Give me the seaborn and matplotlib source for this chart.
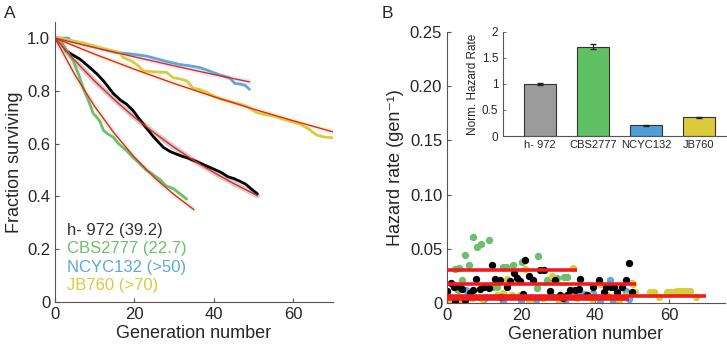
import numpy as np
import pandas as pd
import matplotlib
matplotlib.use("Agg")
import matplotlib.pyplot as plt
import seaborn as sns

# strains and colours
strains = ["h- 972", "CBS2777", "NCYC132", "JB760"]
legend_labels = ["h- 972 (39.2)", "CBS2777 (22.7)", "NCYC132 (>50)", "JB760 (>70)"]
line_colors = ["#000000", "#6cbf6c", "#5ea7dc", "#d8cb3c"]
text_colors = ["#333333", "#6cbf6c", "#5ea7dc", "#d8cb3c"]
bar_colors = ["#9b9b9b", "#5fc163", "#4d9edb", "#dccb3a"]

# panel A: survival curves (generation, fraction surviving)
black_g = [0, 1.3, 2.9, 4.6, 6.3, 8.8, 10.5, 12.2, 14.7, 16.5, 18, 19.7, 21.4, 23, 24.8, 27.3, 29,
           31.5, 33.5, 35.7, 37.5, 39.8, 42, 43.5, 45, 46.5, 48, 49.5, 51]
black_f = [1.0, 0.99, 0.95, 0.935, 0.92, 0.888, 0.865, 0.838, 0.79, 0.765, 0.75, 0.725, 0.69, 0.66,
           0.626, 0.586, 0.57, 0.555, 0.545, 0.532, 0.52, 0.505, 0.49, 0.475, 0.468, 0.458, 0.447,
           0.428, 0.41]
green_g = [0, 1.3, 3, 4.6, 6, 7.1, 8.5, 9.6, 10.5, 11.3, 12.2, 13.5, 14.7, 16, 18, 19.5, 21.4, 23,
           24.5, 26.4, 28, 29.8, 31.5, 33.2]
green_f = [1.0, 0.99, 0.95, 0.913, 0.86, 0.81, 0.76, 0.715, 0.70, 0.685, 0.65, 0.635, 0.624, 0.60,
           0.574, 0.55, 0.524, 0.50, 0.485, 0.465, 0.44, 0.43, 0.41, 0.39]
blue_g = [0, 3.3, 4, 5.5, 7.5, 9.6, 12, 15.5, 19, 23, 26, 28.5, 31.5, 34, 36.5, 39, 41.6, 44.1,
          45.3, 47, 48, 49]
blue_f = [1.0, 1.0, 0.99, 0.985, 0.975, 0.968, 0.958, 0.945, 0.94, 0.932, 0.92, 0.91, 0.90, 0.895,
          0.888, 0.875, 0.86, 0.848, 0.828, 0.825, 0.82, 0.806]
yellow_g = [0, 1.3, 4, 7.1, 10, 13, 16.4, 17.2, 19, 20.6, 22.3, 25, 28.1, 29.8, 31.5, 33.2, 34.8,
            36.5, 38.2, 40, 41.6, 44, 46.6, 48.5, 50.8, 53, 55, 58, 61.7, 64, 66, 68, 70]
yellow_f = [1.0, 1.0, 0.99, 0.982, 0.97, 0.957, 0.945, 0.926, 0.915, 0.90, 0.876, 0.872, 0.87,
            0.85, 0.845, 0.838, 0.81, 0.805, 0.794, 0.78, 0.77, 0.76, 0.75, 0.74, 0.718, 0.71,
            0.705, 0.69, 0.674, 0.655, 0.632, 0.625, 0.622]

# panel A: exponential fits
fit_black_g = [0, 5, 10, 15, 20, 25, 30, 35, 40, 45, 50, 51]
fit_black_f = [1.0, 0.915, 0.837, 0.766, 0.70, 0.641, 0.586, 0.536, 0.491, 0.449, 0.411, 0.403]
fit_green_g = [0, 5, 10, 15, 20, 25, 30, 35]
fit_green_f = [1.0, 0.861, 0.741, 0.638, 0.549, 0.472, 0.407, 0.35]
fit_blue_g = [0, 10, 20, 30, 40, 49]
fit_blue_f = [1.0, 0.964, 0.929, 0.895, 0.862, 0.834]
fit_yellow_g = [0, 10, 20, 30, 40, 50, 60, 70]
fit_yellow_f = [1.0, 0.939, 0.882, 0.828, 0.778, 0.731, 0.687, 0.645]

# panel B: per-generation hazard rates
hz_black_g = [0.1, 1, 1.9, 2.8, 3.5, 4, 4.9, 6.2, 7.1, 7.8, 8.9, 10, 11.3, 12.1, 13, 14.3, 16.1,
              17, 18.1, 18.8, 19.7, 21.1, 22, 23.2, 25.1, 26.2, 27.8, 29.2, 30.4, 31.4, 32.5,
              33.2, 34.6, 35.5, 35.9, 37.7, 39.5, 40.9, 42.3, 43, 44.2, 45.1, 45.9, 47.2, 48.3,
              49, 49.9, 14.5, 20.5, 2.2]
hz_black_h = [0.0114, 0.0188, 0.0145, 0.0157, 0.0145, 0.0127, 0.0028, 0.009, 0.012, 0.022,
              0.0127, 0.015, 0.0136, 0.035, 0.022, 0.021, 0.0145, 0.0198, 0.028, 0.0228, 0.0198,
              0.0398, 0.0244, 0.0213, 0.030, 0.0306, 0.0114, 0.0213, 0.0074, 0.0043, 0.0074,
              0.012, 0.012, 0.0127, 0.0219, 0.0074, 0.015, 0.0213, 0.0105, 0.015, 0.0145, 0.015,
              0.0105, 0.015, 0.0213, 0.0367, 0.0105, 0.005, 0.008, 0.002]
hz_green_g = [2.2, 3.1, 4.0, 4.9, 6.0, 7.1, 8.0, 9.1, 11.2, 3.0, 12.5, 13.4, 15.2, 16.0, 17.9,
              20.2, 24.2, 24.5, 26.9, 28.3, 29.6, 31.6, 32.5]
hz_green_h = [0.031, 0.032, 0.021, 0.044, 0.035, 0.061, 0.052, 0.054, 0.058, 0.012, 0.015, 0.015,
              0.033, 0.033, 0.035, 0.038, 0.0136, 0.0435, 0.021, 0.0228, 0.0228, 0.024, 0.024]
hz_blue_g = [0, 3.5, 5, 10, 15.2, 20, 24, 28, 31.9, 35.5, 37, 39.5, 41.4, 44, 44.8, 46, 48.4, 49]
hz_blue_h = [0.001, 0.0136, 0.012, 0.004, 0.001, 0.002, 0.003, 0.006, 0.001, 0.0105, 0.008,
             0.0095, 0.001, 0.0213, 0.001, 0.006, 0.0114, 0.004]
hz_yellow_g = [0, 1, 3.2, 6.7, 9.4, 13.4, 15.2, 16.1, 17.5, 19.7, 21.1, 22, 26, 28.3, 30.1, 34.1,
               35, 38.2, 39.1, 41.4, 43.2, 46.3, 48.6, 49.9, 50.2, 50.8, 54.9, 55.8, 57.1, 59.4,
               60.3, 61.2, 62.1, 63, 63.9, 64.8, 65.7, 67.3]
hz_yellow_h = [0.0074, 0.0028, 0.002, 0.0043, 0.0034, 0.0074, 0.009, 0.022, 0.0074, 0.0074,
               0.031, 0.001, 0.0043, 0.0244, 0.002, 0.032, 0.0043, 0.007, 0.004, 0.0176, 0.0074,
               0.0028, 0.0074, 0.018, 0.0176, 0.0105, 0.0105, 0.0105, 0.0052, 0.0105, 0.0105,
               0.0105, 0.011, 0.0114, 0.0114, 0.0114, 0.0114, 0.0052]

# fitted constant hazard (red bars in B) and their generation range
fit_rate = [0.0178, 0.0306, 0.0038, 0.0063]
fit_end = [51, 35, 49, 70]

# inset: normalised hazard rate
norm_rate = [1.0, 1.72, 0.21, 0.36]
norm_err = [0.012, 0.05, 0.008, 0.01]

sns.set_style("ticks")
plt.rcParams['font.family'] = ['Liberation Sans', 'DejaVu Sans']
plt.rcParams['axes.edgecolor'] = '#555555'
plt.rcParams['xtick.direction'] = 'in'
plt.rcParams['ytick.direction'] = 'in'

surv = [(black_g, black_f), (green_g, green_f), (blue_g, blue_f), (yellow_g, yellow_f)]
fits = [(fit_black_g, fit_black_f), (fit_green_g, fit_green_f),
        (fit_blue_g, fit_blue_f), (fit_yellow_g, fit_yellow_f)]
hz = [(hz_black_g, hz_black_h), (hz_green_g, hz_green_h),
      (hz_blue_g, hz_blue_h), (hz_yellow_g, hz_yellow_h)]

fig = plt.figure(figsize=(7.27, 3.51), dpi=100)
axA = fig.add_axes([0.0757, 0.1396, 0.382, 0.797])
axB = fig.add_axes([0.615, 0.137, 0.382, 0.772])
axI = fig.add_axes([0.692, 0.6125, 0.308, 0.2965])

# ---- panel A
surv_df = pd.concat([pd.DataFrame({'gen': g, 'frac': f, 'strain': s})
                     for (g, f), s in zip(surv, strains)])
fit_df = pd.concat([pd.DataFrame({'gen': g, 'frac': f, 'strain': s})
                    for (g, f), s in zip(fits, strains)])
# faint band under each fit
sns.lineplot(data=fit_df, x='gen', y='frac', hue='strain', palette=line_colors, sort=False,
             estimator=None, lw=4, alpha=0.18, legend=False, ax=axA)
sns.lineplot(data=surv_df, x='gen', y='frac', hue='strain', palette=line_colors, sort=False,
             estimator=None, lw=2, legend=False, ax=axA)
sns.lineplot(data=fit_df, x='gen', y='frac', hue='strain', palette=['#e8231f'] * 4, sort=False,
             estimator=None, lw=1, legend=False, ax=axA)
axA.set_xlim(0, 70)
axA.set_ylim(0, 1.06)
axA.set_xticks([0, 20, 40, 60])
axA.set_yticks([0, 0.2, 0.4, 0.6, 0.8, 1.0])
axA.set_yticklabels(["0", "0.2", "0.4", "0.6", "0.8", "1.0"])
axA.set_xlabel("Generation number", fontsize=13, labelpad=2)
axA.set_ylabel("Fraction surviving", fontsize=13, labelpad=3)
axA.tick_params(labelsize=12, length=3, width=0.8, color='#555555')
sns.despine(ax=axA)
for i, lab in enumerate(legend_labels):
    axA.text(0.042, 0.257 - i * 0.066, lab, color=text_colors[i], fontsize=12,
             transform=axA.transAxes, va='center')
fig.text(0.006, 0.95, "A", fontsize=12.5)

# ---- panel B
hz_df = pd.concat([pd.DataFrame({'gen': g, 'h': h, 'strain': s})
                   for (g, h), s in zip(hz, strains)])
order_draw = ["CBS2777", "NCYC132", "JB760", "h- 972"]
for s in order_draw:
    i = strains.index(s)
    sns.scatterplot(data=hz_df[hz_df.strain == s], x='gen', y='h', color=line_colors[i],
                    s=28, linewidth=0, ax=axB, zorder=2)
for i in range(4):
    axB.hlines(fit_rate[i], 0, fit_end[i], color='#ee1c1c', lw=2.6, zorder=3)
axB.set_xlim(0, 75)
axB.set_ylim(0, 0.25)
axB.set_xticks([0, 20, 40, 60])
axB.set_yticks([0, 0.05, 0.10, 0.15, 0.20, 0.25])
axB.set_yticklabels(["0", "0.05", "0.10", "0.15", "0.20", "0.25"])
axB.set_xlabel("Generation number", fontsize=13, labelpad=2)
axB.set_ylabel("Hazard rate (gen\u207b\u00b9)", fontsize=13, labelpad=4)
axB.tick_params(labelsize=12, length=3, width=0.8, color='#555555')
sns.despine(ax=axB)
fig.text(0.525, 0.95, "B", fontsize=12.5)

# ---- inset
bar_df = pd.DataFrame({'strain': strains, 'rate': norm_rate})
sns.barplot(data=bar_df, x='strain', y='rate', hue='strain', palette=bar_colors, width=0.6,
            saturation=1, edgecolor='#333333', linewidth=0.8, legend=False, ax=axI)
axI.errorbar(range(4), norm_rate, yerr=norm_err, fmt='none', ecolor='#222222', elinewidth=0.8,
             capsize=2)
axI.set_xlim(-0.7, 3.53)
axI.set_ylim(0, 2)
axI.set_yticks([0, 0.5, 1, 1.5, 2])
axI.set_yticklabels(["0", "0.5", "1", "1.5", "2"])
axI.set_xlabel("")
axI.set_ylabel("Norm. Hazard Rate", fontsize=8.5, labelpad=2)
axI.tick_params(labelsize=8.5, length=2, width=0.6, color='#555555')
axI.tick_params(axis='x', length=0, pad=3, labelsize=8)
axI.patch.set_alpha(0)
sns.despine(ax=axI)

fig.savefig("out.png", dpi=100)
